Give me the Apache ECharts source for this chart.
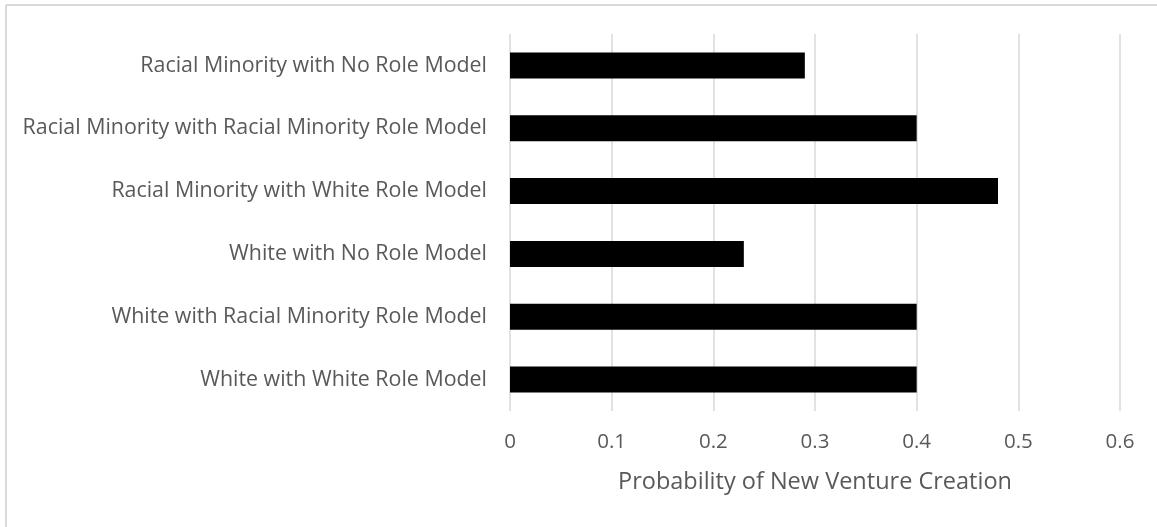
<!DOCTYPE html>
<html>
<head>
<meta charset="utf-8">
<script src="https://cdn.jsdelivr.net/npm/echarts@6/dist/echarts.min.js"></script>
<style>
  html, body { margin: 0; padding: 0; background: #fff; }
  #chart { width: 1157px; height: 527px; }
</style>
</head>
<body>
<div id="chart"></div>
<script>
// Groups, listed bottom-to-top as the category axis stacks them
const categories = [
  'White with White Role Model',
  'White with Racial Minority Role Model',
  'White with No Role Model',
  'Racial Minority with White Role Model',
  'Racial Minority with Racial Minority Role Model',
  'Racial Minority with No Role Model'
];
const probabilities = [0.40, 0.40, 0.23, 0.48, 0.40, 0.29];
const xTicks = [0, 0.1, 0.2, 0.3, 0.4, 0.5, 0.6];
const xTitle = 'Probability of New Venture Creation';

const FONT = '"Open Sans", Lato, sans-serif';
const chart = echarts.init(document.getElementById('chart'));

chart.setOption({
  animation: false,
  backgroundColor: '#ffffff',
  grid: { left: 510, right: 37, top: 34, bottom: 116, containLabel: false },
  xAxis: {
    type: 'value',
    min: xTicks[0],
    max: xTicks[xTicks.length - 1],
    interval: 0.1,
    name: xTitle,
    nameLocation: 'middle',
    nameGap: 59,
    nameTextStyle: { color: '#595959', fontSize: 23.5, fontFamily: FONT },
    axisLine: { show: false },
    axisTick: { show: false },
    axisLabel: {
      color: '#595959', fontSize: 20.5, fontFamily: FONT, margin: 21,
      formatter: v => String(Math.round(v * 10) / 10)
    },
    splitLine: { show: true, lineStyle: { color: '#d9d9d9', width: 1.5 } }
  },
  yAxis: {
    type: 'category',
    data: categories,
    axisLine: { show: false },
    axisTick: { show: false },
    axisLabel: { color: '#595959', fontSize: 21.4, fontFamily: FONT, margin: 23 }
  },
  series: [{
    type: 'bar',
    data: probabilities,
    barWidth: 26,
    itemStyle: { color: '#000000' },
    silent: true
  }],
  graphic: [
    { type: 'line', shape: { x1: 6, y1: 5, x2: 1157, y2: 5 }, style: { stroke: '#d9d9d9', lineWidth: 2 } },
    { type: 'line', shape: { x1: 6, y1: 5, x2: 6, y2: 527 }, style: { stroke: '#d9d9d9', lineWidth: 2 } }
  ]
});
</script>
</body>
</html>
